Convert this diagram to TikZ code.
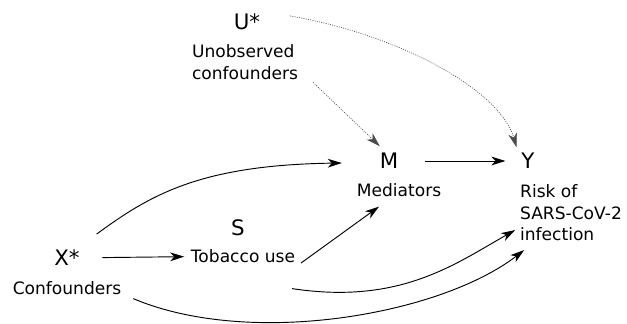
\documentclass[tikz,border=0pt]{standalone}
\usepackage{fontspec}
\setmainfont{DejaVu Sans}
\usetikzlibrary{arrows.meta}

\begin{document}
\begin{tikzpicture}[
  x=0.75pt, y=-0.75pt,
  var/.style={inner sep=0pt, outer sep=0pt, font=\fontsize{16}{19}\selectfont},
  lbl/.style={inner sep=0pt, outer sep=0pt, align=left, font=\fontsize{12.8}{16.1}\selectfont},
  arr/.style={-{Stealth[length=10.5pt, width=6.5pt, inset=3pt]}, line width=0.7pt},
  dot/.style={arr, densely dotted, line width=0.5pt, draw=black!70}
]
\useasboundingbox (0,0) rectangle (627,324);

% variables
\node[var] (U) at (247,22) {U*};
\node[lbl] (unobs) at (245,62) {Unobserved\\confounders};
\node[var] (M) at (389,161) {M};
\node[lbl] (med) at (399,190) {Mediators};
\node[var] (Y) at (528,161) {Y};
\node[lbl] (risk) at (571,213) {Risk of\\SARS-CoV-2\\infection};
\node[var] (S) at (238,228) {S};
\node[lbl] (tob) at (243,256) {Tobacco use};
\node[var] (X) at (67,258) {X*};
\node[lbl] (conf) at (67,288) {Confounders};

% unobserved paths
\draw[dot] ([shift={(30,2)}]U.north east) .. controls (400,35) and (500,90) .. ([shift={(-5,-6)}]Y.north west);
\draw[dot] ([shift={(15,3)}]unobs.south east) -- ([shift={(0,-7)}]M.north west);

% observed paths
\draw[arr] ([shift={(17,-16)}]X.north east) .. controls (150,195) and (200,165) .. ([shift={(-38,2)}]M.west);
\draw[arr, shorten <=20pt, shorten >=12pt] (M) -- (Y);
\draw[arr, shorten <=17pt, shorten >=5pt] (X) -- (tob);
\draw[arr] ([shift={(6,7)}]tob.east) -- ([shift={(-20,10)}]med.south);
\draw[arr] ([shift={(-3,26)}]tob.south east) .. controls (400,305) and (455,264) .. ([shift={(-5,-11)}]risk.south west);
\draw[arr] ([shift={(12,4)}]conf.south east) .. controls (250,348) and (440,315) .. ([shift={(4,9)}]risk.south west);
\end{tikzpicture}
\end{document}
